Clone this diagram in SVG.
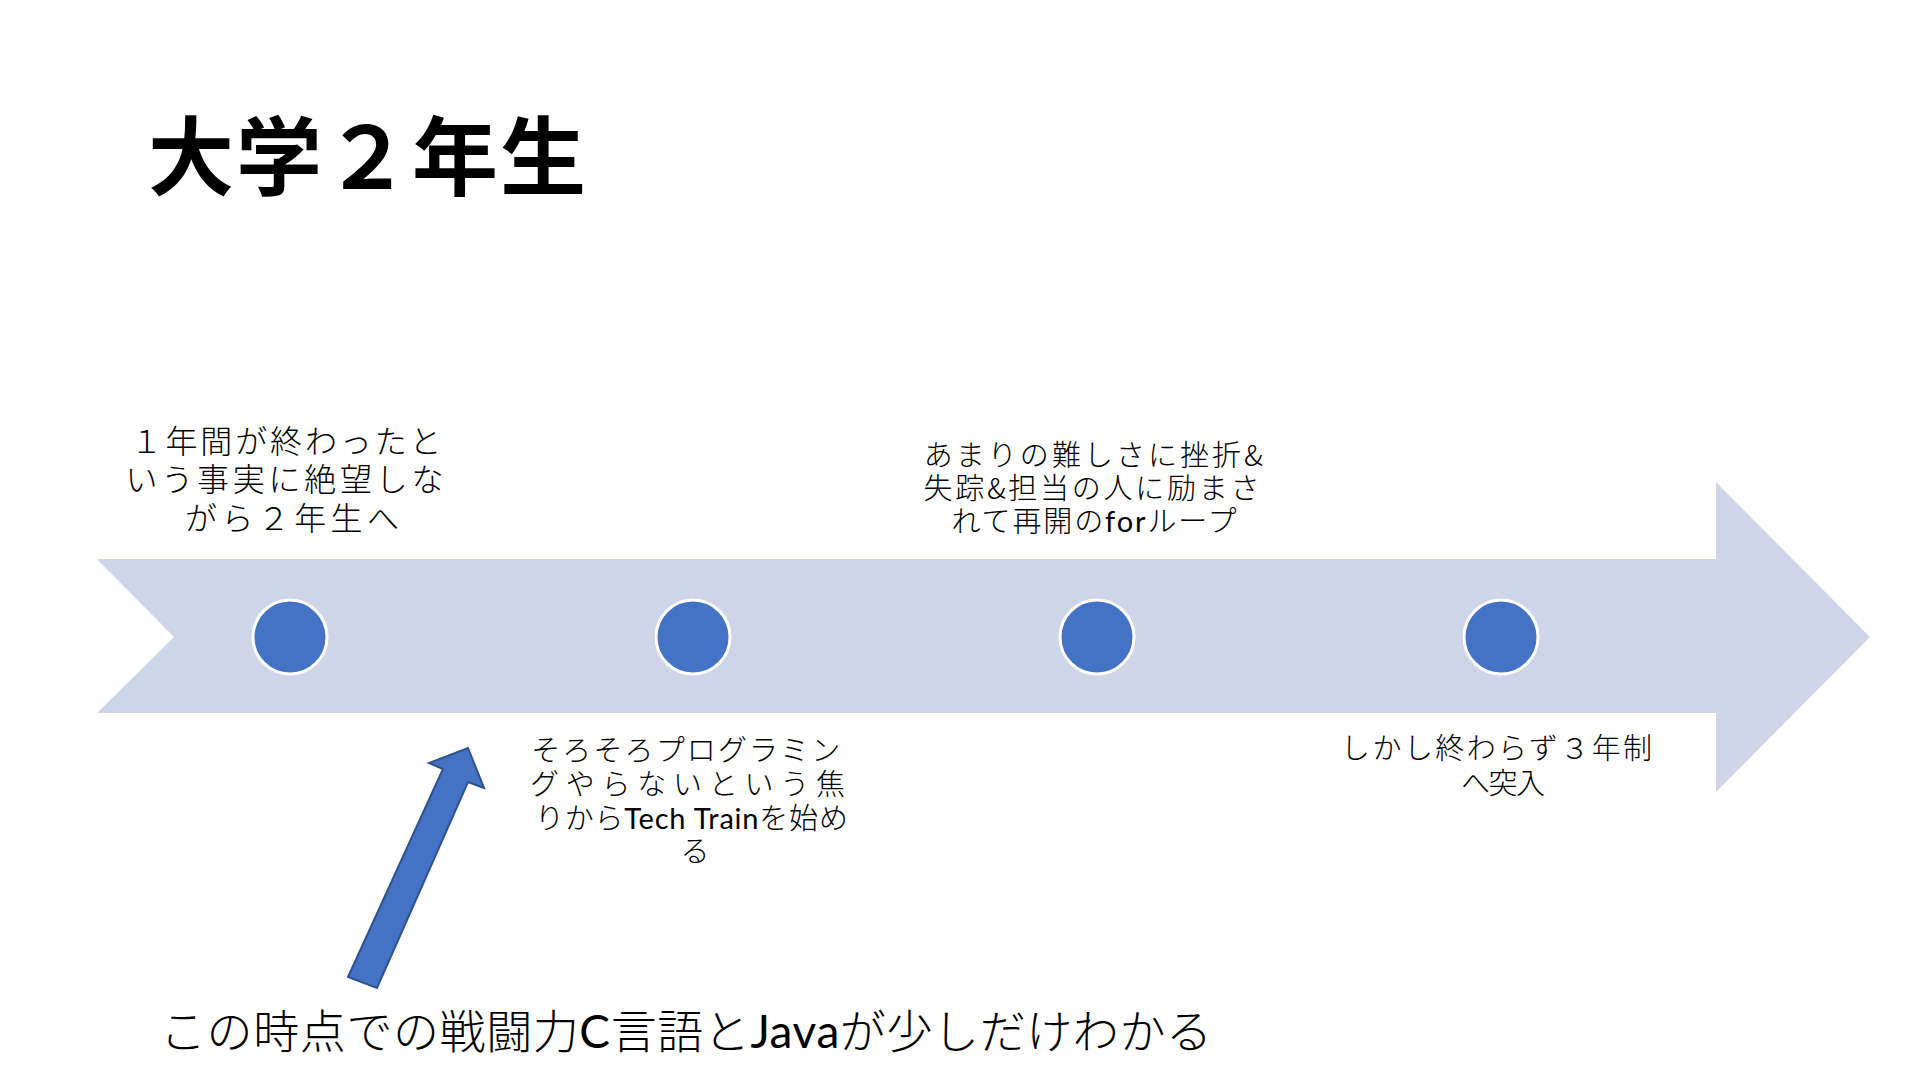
<svg xmlns="http://www.w3.org/2000/svg" width="1920" height="1080" viewBox="0 0 1920 1080">
<style>
.jp{font-family:"Noto Sans CJK JP","Noto Sans",sans-serif;font-weight:300;fill:#000}
.lbl{font-size:29px}
.lbl1{font-size:32px}
.lat{font-family:Lato,"Noto Sans",sans-serif;font-weight:400}
.title{font-family:"Noto Sans CJK JP","Noto Sans",sans-serif;font-weight:700;font-size:86px;fill:#000}
.dot{fill:#4472C4;stroke:#FFFFFF;stroke-width:3}
</style>
<rect width="1920" height="1080" fill="#FFFFFF"/>
<g id="title"><text class="title" x="148" y="189" textLength="438">大学２年生</text></g>
<g id="timeline"><polygon points="97,559 1716,559 1716,482 1870,637 1716,792 1716,713 97,713 174,637" fill="#CED5E9"/></g>
<g id="event1">
<circle class="dot" cx="290" cy="637" r="37"/>
<text class="jp lbl1" text-anchor="middle">
<tspan x="291" y="453" textLength="311">１年間が終わったと</tspan>
<tspan x="290" y="491" textLength="318">いう事実に絶望しな</tspan>
<tspan x="292" y="530" textLength="214">がら２年生へ</tspan>
</text>
</g>
<g id="event2">
<circle class="dot" cx="693" cy="637" r="37"/>
<text class="jp lbl" text-anchor="middle">
<tspan x="690" y="761" textLength="309">そろそろプログラミン</tspan>
<tspan x="694" y="795" textLength="315">グやらないという焦</tspan>
<tspan x="695" y="829" textLength="313">りから<tspan class="lat">Tech Train</tspan>を始め</tspan>
<tspan x="695" y="862">る</tspan>
</text>
</g>
<g id="event3">
<circle class="dot" cx="1097" cy="637" r="37"/>
<text class="jp lbl" text-anchor="middle">
<tspan x="1098" y="466" textLength="339">あまりの難しさに挫折&amp;</tspan>
<tspan x="1096" y="499" textLength="336">失踪&amp;担当の人に励まさ</tspan>
<tspan x="1094" y="532" textLength="285">れて再開の<tspan class="lat">for</tspan>ループ</tspan>
</text>
</g>
<g id="event4">
<circle class="dot" cx="1501" cy="637" r="37"/>
<text class="jp lbl" text-anchor="middle">
<tspan x="1501" y="759" textLength="311">しかし終わらず３年制</tspan>
<tspan x="1503" y="794" textLength="84">へ突入</tspan>
</text>
</g>
<g id="note">
<text class="jp" font-size="46" x="160" y="1048" textLength="1052">この時点での戦闘力<tspan class="lat">C</tspan>言語と<tspan class="lat">Java</tspan>が少しだけわかる</text>
</g>
<g id="connectors">
<polygon points="348,977 443,769 429,763 468,748 484,788 468,782 377,988" fill="#4472C4" stroke="#2F528F" stroke-width="2" stroke-linejoin="miter"/>
</g>
</svg>
